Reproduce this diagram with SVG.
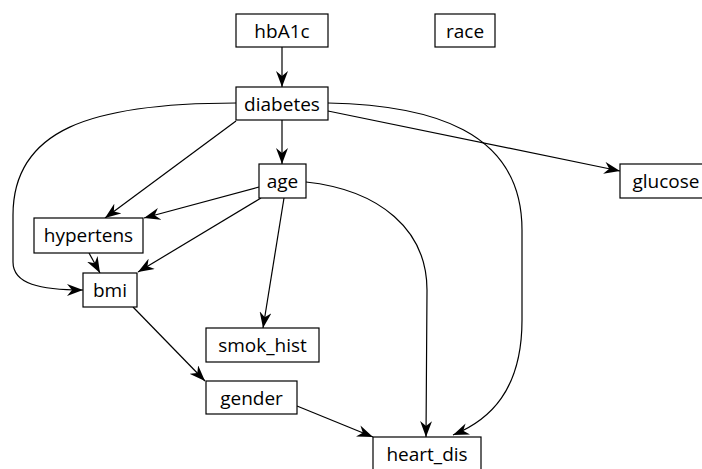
<svg xmlns="http://www.w3.org/2000/svg" width="702" height="469" viewBox="0 0 702 469">
<style>
.n rect{fill:#fff;stroke:#000;stroke-width:1.2}
.n text{font-family:"Open Sans","Noto Sans","DejaVu Sans",sans-serif;font-size:19px;fill:#000;text-anchor:middle}
.e path{fill:none;stroke:#000;stroke-width:1.2;marker-end:url(#ah)}
</style>
<defs>
<marker id="ah" markerUnits="userSpaceOnUse" viewBox="0 0 16 12" refX="16" refY="6" markerWidth="16" markerHeight="12" orient="auto">
<path d="M0,0 L16,6 L0,12 L5,6 z" fill="#000"/>
</marker>
</defs>
<rect width="702" height="469" fill="#fff"/>
<g id="edges" class="e">
<path d="M282,47 L282,87"/>
<path d="M282,120 L282,164"/>
<path d="M236,121 L105,218"/>
<path d="M236,103 C90,103 13,130 13,215 L13,262 C13,284 40,290 83,290"/>
<path d="M328,111 L620,171"/>
<path d="M328,103 C430,105 522,130 522,230 L522,320 C522,390 490,420 453,435"/>
<path d="M259,187 L144,218"/>
<path d="M261,198 L138,272"/>
<path d="M284,198 L263,328"/>
<path d="M306,182 C380,190 427,230 427,290 L426,437"/>
<path d="M89,253 L100,273"/>
<path d="M133,307 L205,381"/>
<path d="M297,406 L373,437"/>
</g>
<g id="hbA1c" class="n"><rect x="236" y="14" width="92" height="33"/><text x="282" y="38">hbA1c</text></g>
<g id="race" class="n"><rect x="435" y="14" width="60" height="33"/><text x="465" y="38">race</text></g>
<g id="diabetes" class="n"><rect x="236" y="87" width="92" height="33"/><text x="282" y="111">diabetes</text></g>
<g id="age" class="n"><rect x="259" y="164" width="47" height="34"/><text x="282.5" y="188">age</text></g>
<g id="glucose" class="n"><rect x="620" y="164" width="92" height="34"/><text x="666" y="188">glucose</text></g>
<g id="hypertens" class="n"><rect x="34" y="218" width="109" height="35"/><text x="88.5" y="242">hypertens</text></g>
<g id="bmi" class="n"><rect x="83" y="273" width="54" height="34"/><text x="110" y="297">bmi</text></g>
<g id="smok_hist" class="n"><rect x="206" y="328" width="113" height="34"/><text x="262.5" y="352">smok_hist</text></g>
<g id="gender" class="n"><rect x="206" y="381" width="91" height="33"/><text x="251.5" y="405">gender</text></g>
<g id="heart_dis" class="n"><rect x="373" y="437" width="108" height="35"/><text x="427" y="461">heart_dis</text></g>
</svg>
